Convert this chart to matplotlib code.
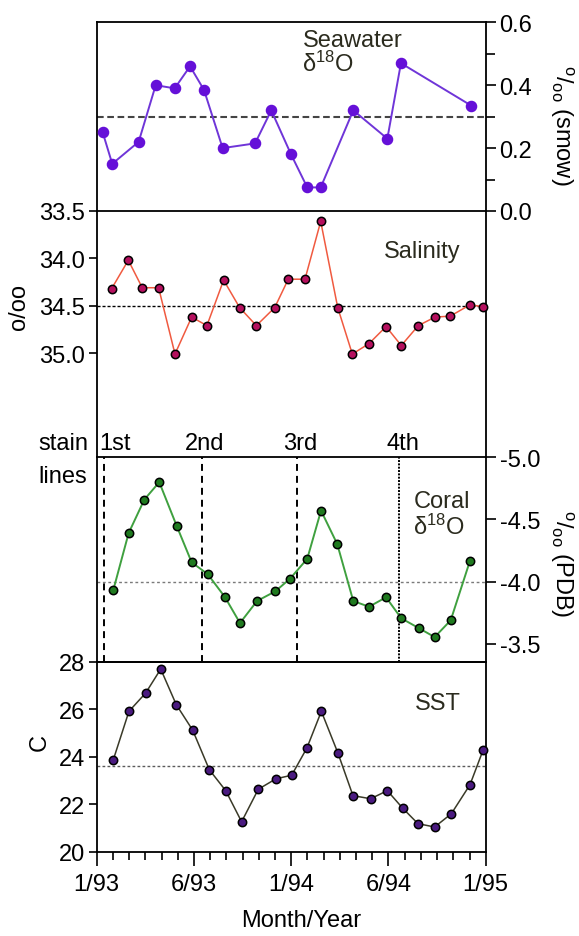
import matplotlib
matplotlib.use("Agg")
import matplotlib.pyplot as plt
import matplotlib.transforms as mtransforms
from matplotlib.ticker import FixedLocator, FormatStrFormatter

plt.rcParams['font.family'] = ['Liberation Sans', 'DejaVu Sans']
plt.rcParams['font.size'] = 17
plt.rcParams['axes.unicode_minus'] = False
plt.rcParams['mathtext.fontset'] = 'custom'
plt.rcParams['mathtext.rm'] = 'Liberation Sans'
plt.rcParams['mathtext.it'] = 'Liberation Sans'
plt.rcParams['mathtext.default'] = 'regular'
plt.rcParams['lines.scale_dashes'] = False
plt.rcParams['axes.linewidth'] = 1.3

# ---- data (months since January 1993) ----
sw_month = [0.37, 0.96, 2.59, 3.64, 4.81, 5.76, 6.62, 7.77, 9.77, 10.77, 11.99,
            12.99, 13.82, 15.83, 17.93, 18.77, 23.11]
sw_d18o = [0.25, 0.15, 0.22, 0.40, 0.39, 0.46, 0.385, 0.20, 0.215, 0.32, 0.18,
           0.075, 0.075, 0.32, 0.23, 0.47, 0.335]

sal_month = [0.92, 1.95, 2.81, 3.82, 4.83, 5.86, 6.80, 7.83, 8.82, 9.85, 10.98, 11.82,
             12.85, 13.82, 14.87, 15.77, 16.80, 17.85, 18.79, 19.84, 20.87, 21.81, 23.03, 23.81]
salinity = [34.32, 34.02, 34.31, 34.31, 35.01, 34.62, 34.71, 34.23, 34.52, 34.71, 34.52, 34.22,
            34.22, 33.61, 34.52, 35.01, 34.90, 34.72, 34.92, 34.71, 34.62, 34.61, 34.49, 34.51]

coral_month = [1.02, 1.97, 2.94, 3.86, 4.93, 5.86, 6.85, 7.91, 8.84, 9.89, 11.02, 11.93,
               12.99, 13.84, 14.84, 15.83, 16.80, 17.85, 18.79, 19.86, 20.85, 21.84, 23.03]
coral_d18o = [-3.93, -4.39, -4.66, -4.80, -4.45, -4.155, -4.06, -3.876, -3.667, -3.844, -3.922, -4.024,
              -4.184, -4.571, -4.302, -3.844, -3.798, -3.874, -3.705, -3.627, -3.554, -3.689, -4.168]

sst_month = [1.02, 1.99, 3.02, 3.95, 4.91, 5.92, 6.95, 7.96, 8.94, 9.97, 11.06, 12.03,
             12.97, 13.86, 14.89, 15.81, 16.90, 17.93, 18.88, 19.82, 20.85, 21.88, 23.03, 23.85]
sst = [23.86, 25.91, 26.68, 27.69, 26.19, 25.12, 23.45, 22.57, 21.26, 22.63, 23.07, 23.22,
       24.37, 25.91, 24.14, 22.36, 22.23, 22.57, 21.83, 21.18, 21.04, 21.60, 22.82, 24.30]

# reference (mean) levels
sw_mean = 0.3
sal_mean = 34.5
coral_mean = -4.0
sst_mean = 23.6

# stain line positions (months) and names
stain_month = [0.47, 6.48, 12.37, 18.67]
stain_names = ['1st', '2nd', '3rd', '4th']

# x axis labels
xtick_pos = [0, 6, 12, 18, 24]
xtick_labels = ['1/93', '6/93', '1/94', '6/94', '1/95']

TEXT = '#2b2b1e'

fig = plt.figure(figsize=(5.79, 9.37), dpi=100)
L, W = 0.1670, 0.6719
ax_sw = fig.add_axes([L, 0.77375, W, 0.20138])
ax_sal = fig.add_axes([L, 0.51089, W, 0.26286])
ax_cor = fig.add_axes([L, 0.29274, W, 0.21815])
ax_sst = fig.add_axes([L, 0.08997, W, 0.20277])

for ax in (ax_sw, ax_sal, ax_cor, ax_sst):
    ax.set_xlim(0, 24)
    ax.set_facecolor('none')
    ax.tick_params(axis='x', bottom=False, labelbottom=False, top=False)
    ax.tick_params(axis='y', which='both', direction='out', width=1.2, colors='black')

# ---- Seawater d18O ----
ax_sw.set_ylim(0, 0.6)
ax_sw.axhline(sw_mean, color='#444444', lw=1.5, dashes=(4.8, 2.6))
ax_sw.plot(sw_month, sw_d18o, color='#6f35d8', lw=1.4, marker='o', ms=7.3,
           mfc='#6510d8', mec='#6510d8', clip_on=False, zorder=3)
ax_sw.yaxis.tick_right()
ax_sw.yaxis.set_major_locator(FixedLocator([0.0, 0.2, 0.4, 0.6]))
ax_sw.yaxis.set_minor_locator(FixedLocator([0.1, 0.3, 0.5]))
ax_sw.yaxis.set_major_formatter(FormatStrFormatter('%.1f'))
ax_sw.tick_params(axis='y', which='major', length=7.5, pad=2.5)
ax_sw.tick_params(axis='y', which='minor', length=6.5)
ax_sw.text(0.5296, 0.876, 'Seawater', transform=ax_sw.transAxes, color=TEXT,
           ha='left', va='baseline')
ax_sw.text(0.527, 0.7435, r'δ$^{18}$O', transform=ax_sw.transAxes, color=TEXT,
           ha='left', va='baseline')

# ---- Salinity ----
ax_sal.set_ylim(36.1, 33.5)
ax_sal.spines['top'].set_visible(False)
ax_sal.spines['bottom'].set_visible(False)
ax_sal.axhline(sal_mean, color='black', lw=1.0, dashes=(2.2, 1.4))
ax_sal.plot(sal_month, salinity, color='#f05a40', lw=1.1, marker='o', ms=6,
            mfc='#b5105e', mec='black', mew=1.1, clip_on=False, zorder=3)
ax_sal.yaxis.set_major_locator(FixedLocator([33.5, 34.0, 34.5, 35.0]))
ax_sal.yaxis.set_major_formatter(FormatStrFormatter('%.1f'))
ax_sal.tick_params(axis='y', right=False, length=5.5, pad=3)
ax_sal.text(0.7393, 0.812, 'Salinity', transform=ax_sal.transAxes, color=TEXT,
            ha='left', va='baseline')

# ---- Coral d18O ----
ax_cor.set_ylim(-3.356, -5.0)
ax_cor.axhline(coral_mean, color='#7a7a7a', lw=1.0, dashes=(2.0, 1.9))
for i, m in enumerate(stain_month):
    if i < 3:
        ax_cor.axvline(m, color='black', lw=1.4, dashes=(5.0, 3.6))
    else:
        ax_cor.axvline(m, color='black', lw=1.4, dashes=(1.4, 1.0))
ax_cor.plot(coral_month, coral_d18o, color='#3fa03f', lw=1.4, marker='o', ms=6,
            mfc='#1f7a1f', mec='black', mew=1.1, clip_on=False, zorder=3)
ax_cor.yaxis.tick_right()
ax_cor.yaxis.set_major_locator(FixedLocator([-5.0, -4.5, -4.0, -3.5]))
ax_cor.yaxis.set_major_formatter(FormatStrFormatter('%.1f'))
ax_cor.tick_params(axis='y', length=7.5, pad=2.5)
ax_cor.text(0.814, 0.7554, 'Coral', transform=ax_cor.transAxes, color=TEXT,
            ha='left', va='baseline')
ax_cor.text(0.814, 0.6248, r'δ$^{18}$O', transform=ax_cor.transAxes, color=TEXT,
            ha='left', va='baseline')

# stain line labels above the coral panel
blend = mtransforms.blended_transform_factory(ax_cor.transData, fig.transFigure)
for i, (m, name) in enumerate(zip(stain_month, stain_names)):
    if i == 0:
        ax_cor.text(m - 0.3, 0.5197, name, transform=blend, ha='left', va='baseline')
    else:
        ax_cor.text(m + 0.2, 0.5197, name, transform=blend, ha='center', va='baseline')
fig.text(0.0656, 0.5197, 'stain', ha='left', va='baseline')
fig.text(0.0656, 0.4842, 'lines', ha='left', va='baseline')

# ---- SST ----
ax_sst.set_ylim(20, 28)
ax_sst.axhline(sst_mean, color='#5a5a5a', lw=1.0, dashes=(2.0, 1.6))
ax_sst.plot(sst_month, sst, color='#3a3a28', lw=1.1, marker='o', ms=6,
            mfc='#4a1a80', mec='black', mew=1.1, clip_on=False, zorder=3)
ax_sst.yaxis.set_major_locator(FixedLocator([20, 22, 24, 26, 28]))
ax_sst.tick_params(axis='y', right=False, length=5.5, pad=3)
ax_sst.xaxis.set_major_locator(FixedLocator(xtick_pos))
ax_sst.set_xticklabels(xtick_labels)
ax_sst.xaxis.set_minor_locator(FixedLocator(list(range(0, 25))))
ax_sst.tick_params(axis='x', which='major', bottom=True, labelbottom=True,
                   direction='out', length=10, width=1.2, pad=5)
ax_sst.tick_params(axis='x', which='minor', bottom=True, direction='out',
                   length=6, width=1.2)
ax_sst.text(0.818, 0.751, 'SST', transform=ax_sst.transAxes, color=TEXT,
            ha='left', va='baseline')

# axis titles
fig.text(0.5196, 0.0107, 'Month/Year', ha='center', va='baseline')
fig.text(0.069, 0.208, 'C', rotation=90, ha='center', va='center')
fig.text(0.032, 0.6724, 'o/oo', rotation=90, ha='center', va='center')
fig.text(0.970, 0.8666, r'$^{o}/_{oo}$ (smow)', rotation=270, ha='center', va='center')
fig.text(0.970, 0.398, r'$^{o}/_{oo}$ (PDB)', rotation=270, ha='center', va='center')

fig.savefig('out.png', dpi=100, facecolor='white')
